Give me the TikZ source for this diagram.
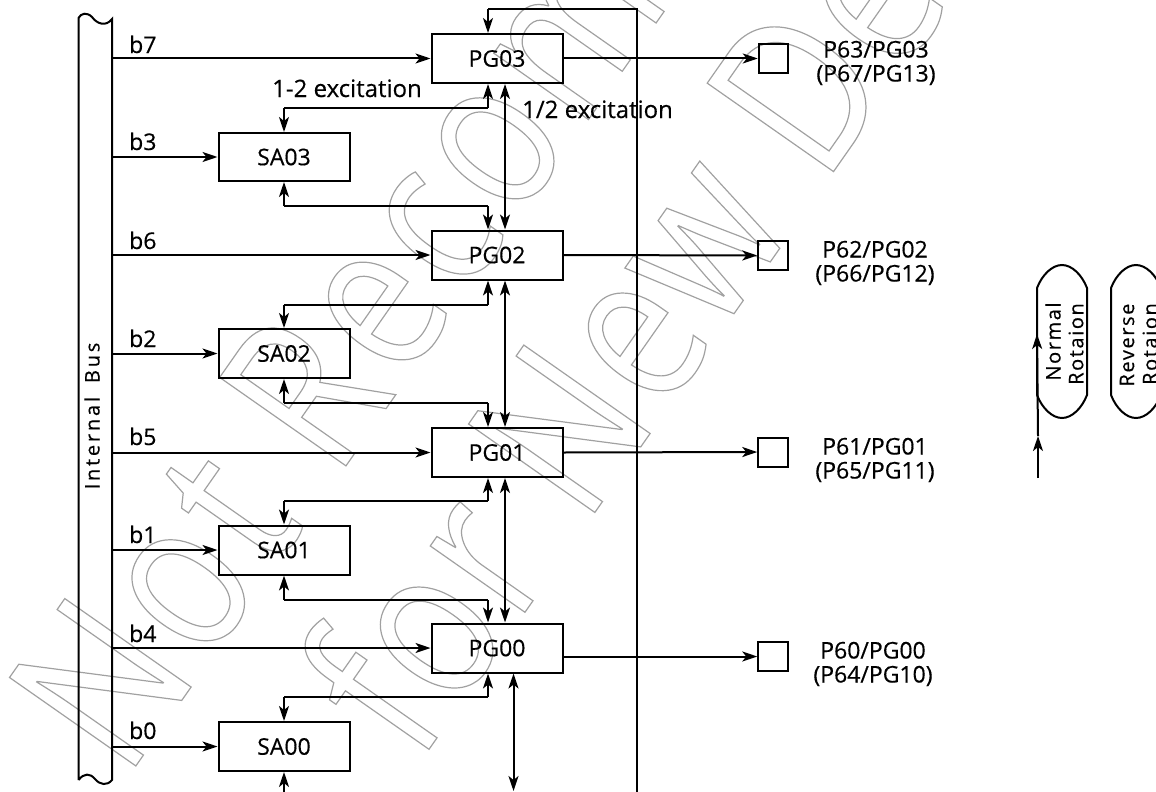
\documentclass[tikz,border=0pt]{standalone}
\usepackage{fontspec}
\setmainfont[RawFeature={embolden=0.4}]{Open Sans}
\newfontfamily\wmfonta[LetterSpace=4,FakeStretch=0.8]{Open Sans}
\newfontfamily\wmfontb[LetterSpace=2,FakeStretch=0.8]{Open Sans}
\newfontfamily\spfont[LetterSpace=8,RawFeature={embolden=0.4}]{Open Sans}
\newfontfamily\bsfont[LetterSpace=14,RawFeature={embolden=0.4}]{Open Sans}
\usetikzlibrary{arrows.meta,calc}
\tikzset{
  box/.style={draw,line width=2pt,minimum width=131pt,inner sep=0pt,font=\fontsize{23}{23}\selectfont},
  port/.style={draw,line width=2pt,minimum width=29.5pt,minimum height=29pt,inner sep=0pt},
  lbl/.style={inner sep=0pt,font=\fontsize{23}{23}\selectfont},
  exlbl/.style={inner sep=0pt,font=\fontsize{24}{24}\selectfont},
  side/.style={inner sep=0pt,align=center,font=\fontsize{23}{24}\selectfont},
  vtext/.style={inner sep=0pt,rotate=90,font=\fontsize{20}{20}\spfont},
  btext/.style={inner sep=0pt,rotate=90,font=\fontsize{20}{20}\bsfont},
  ln/.style={line width=2pt},
  ar/.style={line width=2pt,-{Stealth[length=15pt,width=10pt,inset=4pt]}},
  ra/.style={line width=2pt,{Stealth[length=15pt,width=10pt,inset=4pt]}-{Stealth[length=15pt,width=10pt,inset=4pt]}},
  wm/.style={inner sep=0pt,rotate=55,anchor=base west}
}
\begin{document}
\begin{tikzpicture}[x=1pt,y=-1pt]
\useasboundingbox (0,0) rectangle (1156,792);
% watermark
\node[wm] (wm1) at (126,780) {\special{pdf:code q 1 Tr 1.2 w 0.63 G}\fontsize{216}{216}\wmfonta Not Recommended\special{pdf:code Q}};
\node[wm] (wm2) at (418,765) {\special{pdf:code q 1 Tr 1.2 w 0.63 G}\fontsize{216}{216}\wmfontb for New Design\special{pdf:code Q}};
% bus
\draw[ln] (78.5,780) -- (78.5,18) .. controls (81,13) and (87,12) .. (92,17) .. controls (97,24) and (106,27) .. (112,19) -- (112,780) .. controls (107,786) and (100,785) .. (95,779) .. controls (90,773) and (84,773) .. (78.5,780);
\node[btext] (busl) at (92,416) {Internal\hspace{14pt}Bus};
% boxes
\node[box,minimum height=49pt] (PG03) at (497,58.5) {PG03};
\node[box,minimum height=49pt] (PG02) at (497,255) {PG02};
\node[box,minimum height=49pt] (PG01) at (497,452.5) {PG01};
\node[box,minimum height=49pt] (PG00) at (497,648) {PG00};
\node[box,minimum height=48pt] (SA03) at (284,157) {SA03};
\node[box,minimum height=49pt] (SA02) at (284,353.5) {SA02};
\node[box,minimum height=49pt] (SA01) at (284,550) {SA01};
\node[box,minimum height=49pt] (SA00) at (284,746.5) {SA00};
\node[port] (P3) at (773.5,58.5) {};
\node[port] (P2) at (773,255.5) {};
\node[port] (P1) at (773,452) {};
\node[port] (P0) at (773,656.5) {};
% bus taps
\foreach \n/\t in {b7/PG03, b6/PG02, b5/PG01, b4/PG00, b3/SA03, b2/SA02, b1/SA01, b0/SA00}{
  \coordinate (\n t) at (112,0);
  \draw[ar] (\t.west -| \n t) -- (\t.west);
}
\node[lbl,anchor=base west] (lb7) at (129,53) {b7};
\node[lbl,anchor=base west] (lb3) at (129,150) {b3};
\node[lbl,anchor=base west] (lb6) at (129,249) {b6};
\node[lbl,anchor=base west] (lb2) at (129,347) {b2};
\node[lbl,anchor=base west] (lb5) at (129,445) {b5};
\node[lbl,anchor=base west] (lb1) at (129,543) {b1};
\node[lbl,anchor=base west] (lb4) at (129,642) {b4};
\node[lbl,anchor=base west] (lb0) at (129,739) {b0};
% column coordinates
\coordinate (cA) at (488,0);
\coordinate (cB) at (505,0);
\coordinate (cC) at (284,0);
\coordinate (cE) at (513.5,0);
% return line
\coordinate (top) at (636.5,9);
\coordinate (bot) at (636.5,792);
\draw[ln] (bot) -- (top) -- (top -| cA);
\draw[ar] (top -| cA) -- (PG03.north -| cA);
% 1-2 excitation buses
\foreach \up/\dn/\yy in {PG03/SA03/108, PG02/SA02/304.5, PG01/SA01/501, PG00/SA00/697}{
  \coordinate (h) at (0,\yy);
  \draw[ln] (h -| cC) -- (h -| cA);
  \draw[ar] (h -| cA) -- (\up.south -| cA);
  \draw[ar] (h -| cC) -- (\dn.north -| cC);
}
\foreach \up/\dn/\yy in {SA03/PG02/206, SA02/PG01/403, SA01/PG00/600}{
  \coordinate (h) at (0,\yy);
  \draw[ln] (h -| cC) -- (h -| cA);
  \draw[ar] (h -| cC) -- (\up.south -| cC);
  \draw[ar] (h -| cA) -- (\dn.north -| cA);
}
\coordinate (s0) at (284,792);
\draw[ar] (s0) -- (SA00.south -| s0);
% 1/2 excitation
\draw[ra] (PG03.south -| cB) -- (PG02.north -| cB);
\draw[ra] (PG02.south -| cB) -- (PG01.north -| cB);
\draw[ra] (PG01.south -| cB) -- (PG00.north -| cB);
\coordinate (e0) at (513.5,791);
\draw[ra] (PG00.south -| cE) -- (e0);
% outputs
\coordinate (o0) at (563,656.5);
\draw[ar] (PG03.east) -- (P3.west);
\draw[ar] (PG02.east) -- (P2.west);
\draw[ar] (PG01.east) -- (P1.west);
\draw[ar] (o0) -- (P0.west);
% labels
\node[exlbl,anchor=base west] (ex1) at (272,97) {1-2 excitation};
\node[exlbl,anchor=base west] (ex2) at (522,118) {1/2 excitation};
\node[side] (t3) at (876,63) {P63/PG03\\(P67/PG13)};
\node[side] (t2) at (875,263) {P62/PG02\\(P66/PG12)};
\node[side] (t1) at (875,460) {P61/PG01\\(P65/PG11)};
\node[side] (t0) at (873,664) {P60/PG00\\(P64/PG10)};
% rotation legend
\draw[ln] (1037,288) .. controls (1042,275) and (1052,265) .. (1062,265) .. controls (1072,265) and (1082,275) .. (1087,288) -- (1087,395) .. controls (1082,408) and (1072,418) .. (1062,418) .. controls (1052,418) and (1042,408) .. (1037,395) -- cycle;
\draw[ln] (1111,288) .. controls (1116,275) and (1126,265) .. (1136,265) .. controls (1146,265) and (1156,275) .. (1161,288) -- (1161,395) .. controls (1156,408) and (1146,418) .. (1136,418) .. controls (1126,418) and (1116,408) .. (1111,395) -- cycle;
\node[vtext] (n1) at (1053,341.5) {Normal};
\node[vtext] (n2) at (1076,344) {Rotaion};
\node[vtext] (r1) at (1127,345) {Reverse};
\node[vtext] (r2) at (1150,344) {Rotaion};
\coordinate (ra) at (1038,478);
\coordinate (rb) at (1038,436);
\coordinate (rc) at (1037,334);
\draw[ar] (ra) -- (rb);
\draw[ar] (rb) -- (rc);
\end{tikzpicture}
\end{document}
